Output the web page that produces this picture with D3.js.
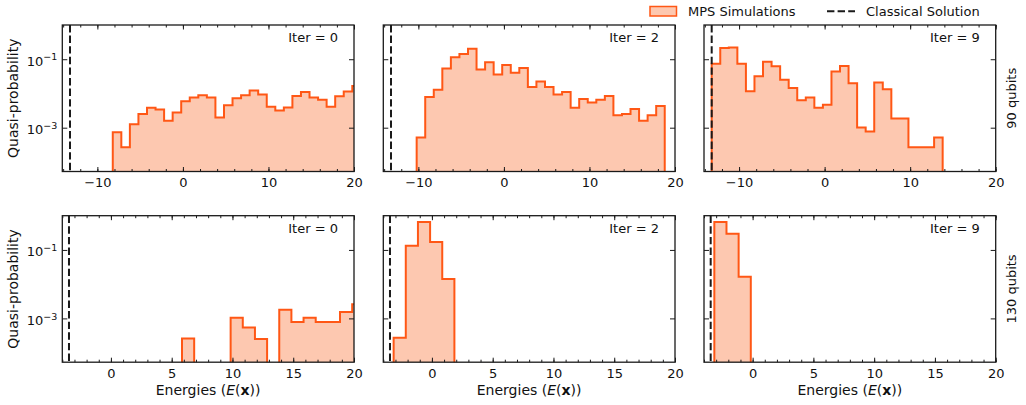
<!DOCTYPE html>
<html>
<head>
<meta charset="utf-8">
<script src="https://cdnjs.cloudflare.com/ajax/libs/d3/7.8.5/d3.min.js"></script>
<style>
body { margin: 0; background: #fff; }
svg text { font-family: "DejaVu Sans", sans-serif; fill: #111; }
</style>
</head>
<body>
<script>
// histogram heights, bins of width 1
var iters = [0, 2, 9];
var qubitLabels = ["90 qubits", "130 qubits"];
var classical = [-13.2, -3.45];
var binStart90 = [-8.2, -10.2, -13.2];
var binStart130 = [5.85, -3.15, -3.15];

var q90iter0 = [7.4e-4, 2.7e-4, 1.26e-3, 2.5e-3, 3.8e-3, 3.4e-3, 1.6e-3, 2.8e-3, 5.9e-3, 7.6e-3,
    8.9e-3, 7.6e-3, 2.0e-3, 4.5e-3, 7.2e-3, 8.9e-3, 1.23e-2, 9.3e-3, 4.1e-3, 3.2e-3,
    3.9e-3, 8.5e-3, 1.10e-2, 7.6e-3, 6.6e-3, 4.1e-3, 8.3e-3, 1.15e-2, 1.66e-2];
var q90iter2 = [5.2e-4, 7.9e-3, 1.29e-2, 5.4e-2, 1.15e-1, 1.41e-1, 2.04e-1, 5.0e-2, 8.1e-2, 3.6e-2,
    6.8e-2, 4.0e-2, 5.5e-2, 1.55e-2, 2.24e-2, 1.55e-2, 9.3e-3, 1.10e-2, 3.8e-3, 6.9e-3,
    5.4e-3, 6.5e-3, 8.5e-3, 2.3e-3, 2.5e-3, 3.5e-3, 1.6e-3, 2.3e-3, 4.3e-3];
var q90iter9 = [7.4e-2, 2.14e-1, 2.19e-1, 7.4e-2, 1.17e-2, 3.2e-2, 8.5e-2, 6.2e-2, 2.5e-2, 1.45e-2,
    6.3e-3, 7.6e-3, 3.8e-3, 4.7e-3, 4.4e-2, 6.3e-2, 2.0e-2, 1.02e-3, 7.8e-4, 2.1e-2,
    1.32e-2, 1.86e-3, 1.86e-3, 2.7e-4, 2.7e-4, 2.7e-4, 5.2e-4];
var q130iter0 = [2.6e-4, 0, 0, 0, 1.05e-3, 5.4e-4, 2.5e-4, 0, 1.8e-3, 7.8e-4,
    1.05e-3, 7.8e-4, 7.8e-4, 1.55e-3, 2.6e-3];
var q130iter2 = [2.7e-4, 1.32e-1, 6.6e-1, 1.7e-1, 1.41e-2];
var q130iter9 = [6.6e-1, 2.95e-1, 1.66e-2];

var rows = [
    {start: binStart90, series: [q90iter0, q90iter2, q90iter9], xmin: -14.1,
     major: [-10, 0, 10, 20], minor: d3.range(-14, 21, 2)},
    {start: binStart130, series: [q130iter0, q130iter2, q130iter9], xmin: -4,
     major: [0, 5, 10, 15, 20], minor: d3.range(-4, 21, 1)}
];

var width = 1026, height = 405;
var colLeft = [62.3, 383.3, 704];
var rowTop = [25, 215.7];
var pw = 291.7, ph = 146.5;
var edgeColor = "#ff5715", fillColor = "#fdc8b0", ink = "#1a1a1a";

var svg = d3.select('body').append('svg')
    .attr('width', width)
    .attr('height', height);

var y = d3.scaleLog()
    .domain([5.25e-5, 1])
    .range([ph, 0]);

rows.forEach(function(row, r){
    var x = d3.scaleLinear()
        .domain([row.xmin, 20])
        .range([0, pw]);

    row.series.forEach(function(vals, c){
        var g = svg.append('g')
            .attr('transform', 'translate(' + colLeft[c] + ',' + rowTop[r] + ')');
        var clipId = 'clip' + r + c;
        g.append('clipPath').attr('id', clipId)
            .append('rect').attr('width', pw).attr('height', ph);

        // step outline of the histogram
        var start = row.start[c];
        var pts = [[x(start), ph + 10]];
        vals.forEach(function(v, i){
            var yy = v > 0 ? y(v) : ph + 10;
            pts.push([x(start + i), yy], [x(start + i + 1), yy]);
        });
        pts.push([x(start + vals.length), ph + 10]);

        var line = d3.line();
        g.append('path')
            .attr('clip-path', 'url(#' + clipId + ')')
            .attr('d', line(pts) + 'Z')
            .attr('fill', fillColor)
            .attr('stroke', edgeColor)
            .attr('stroke-width', 2)
            .attr('stroke-linejoin', 'miter');

        // classical solution
        g.append('line')
            .attr('x1', x(classical[r])).attr('x2', x(classical[r]))
            .attr('y1', 0).attr('y2', ph)
            .attr('stroke', ink)
            .attr('stroke-width', 2)
            .attr('stroke-dasharray', '7.4,3.2');

        // axes, ticks pointing inwards on every side
        var xAxis = d3.axisBottom(x).tickValues(row.major)
            .tickSizeInner(-4.5).tickSizeOuter(0).tickPadding(6);
        var xg = g.append('g')
            .attr('transform', 'translate(0,' + ph + ')')
            .call(xAxis);
        xg.attr('font-size', 13).attr('font-family', 'DejaVu Sans').attr('color', ink);
        xg.selectAll('text').attr('dy', '0.74em');
        g.append('g').attr('transform', 'translate(0,' + ph + ')')
            .call(d3.axisBottom(x).tickValues(row.minor).tickSizeInner(-2.5).tickSizeOuter(0).tickFormat(''))
            .attr('color', ink);
        g.append('g')
            .call(d3.axisTop(x).tickValues(row.major).tickSizeInner(-4.5).tickSizeOuter(0).tickFormat(''))
            .attr('color', ink);
        g.append('g')
            .call(d3.axisTop(x).tickValues(row.minor).tickSizeInner(-2.5).tickSizeOuter(0).tickFormat(''))
            .attr('color', ink);

        var yg = g.append('g')
            .call(d3.axisLeft(y).tickValues([1e-1, 1e-3]).tickSizeInner(-5).tickSizeOuter(0).tickPadding(5));
        yg.attr('font-size', 13).attr('font-family', 'DejaVu Sans').attr('color', ink);
        yg.selectAll('text').each(function(d){
            var t = d3.select(this).text(null).attr('dy', '0.45em');
            if (c > 0) return;
            t.append('tspan').text('10');
            t.append('tspan').attr('dy', '-0.55em').attr('font-size', 9.5)
                .text('\u2212' + Math.round(-Math.log10(d)));
        });
        g.append('g').attr('transform', 'translate(' + pw + ',0)')
            .call(d3.axisRight(y).tickValues([1e-1, 1e-3]).tickSizeInner(-5).tickSizeOuter(0).tickFormat(''))
            .attr('color', ink);
        g.selectAll('.domain').remove();

        g.append('rect')
            .attr('width', pw).attr('height', ph)
            .attr('fill', 'none')
            .attr('stroke', ink)
            .attr('stroke-width', 1.3);

        g.append('text')
            .attr('x', pw - 16).attr('y', 17)
            .attr('text-anchor', 'end')
            .attr('font-size', 13)
            .text('Iter = ' + iters[c]);

        if (c === 0) {
            g.append('text')
                .attr('transform', 'translate(-44,' + ph / 2 + ') rotate(-90)')
                .attr('text-anchor', 'middle')
                .attr('font-size', 14)
                .text('Quasi-probability');
        }
        if (c === 2) {
            g.append('text')
                .attr('transform', 'translate(' + (pw + 20.5) + ',' + ph / 2 + ') rotate(-90)')
                .attr('text-anchor', 'middle')
                .attr('font-size', 13)
                .text(qubitLabels[r]);
        }
        if (r === 1) {
            var lab = g.append('text')
                .attr('x', pw / 2).attr('y', ph + 33)
                .attr('text-anchor', 'middle')
                .attr('font-size', 14);
            lab.append('tspan').text('Energies (');
            lab.append('tspan').attr('font-style', 'italic').text('E');
            lab.append('tspan').text('(');
            lab.append('tspan').attr('font-weight', 'bold').text('x');
            lab.append('tspan').text('))');
        }
    });
});

// legend
var leg = svg.append('g');
leg.append('rect')
    .attr('x', 650).attr('y', 6.5).attr('width', 26.5).attr('height', 9.5)
    .attr('fill', fillColor).attr('stroke', edgeColor).attr('stroke-width', 1.5);
leg.append('text').attr('x', 688).attr('y', 16).attr('font-size', 13).text('MPS Simulations');
leg.append('line')
    .attr('x1', 827).attr('x2', 855).attr('y1', 11.3).attr('y2', 11.3)
    .attr('stroke', ink).attr('stroke-width', 2).attr('stroke-dasharray', '7.4,3.2');
leg.append('text').attr('x', 866).attr('y', 16).attr('font-size', 13).text('Classical Solution');
</script>
</body>
</html>
